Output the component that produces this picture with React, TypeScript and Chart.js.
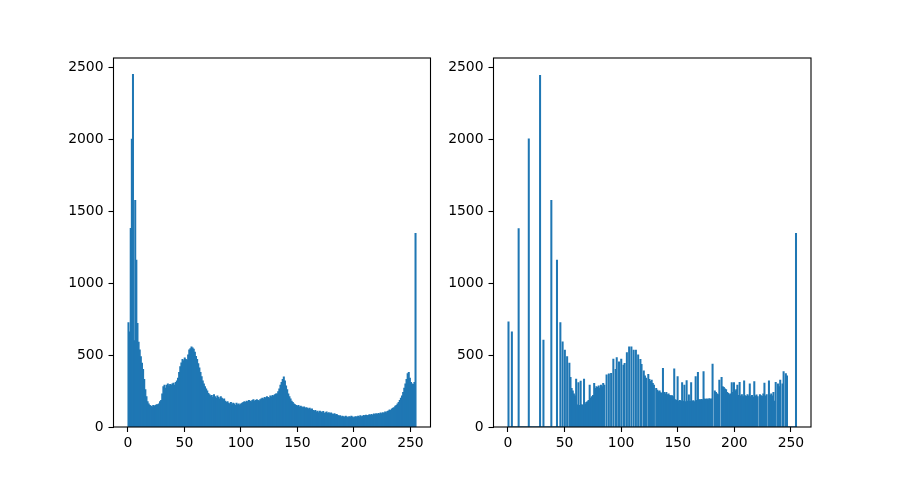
import React, { useEffect, useRef } from "react";
import { Chart, registerables } from "chart.js";

Chart.register(...registerables);

// Original image histogram (256 bins over 0..255)
const leftCounts: number[] = [
  725, 660, 1380, 2000, 2450, 600, 1575, 1160, 720, 590, 535, 488, 444,
  400, 330, 260, 210, 175, 160, 150, 145,
  140, 150, 145, 150, 155,
  155, 160, 175, 185, 230, 280, 290,
  270, 290, 300, 285, 295, 290, 300, 305, 290, 310, 320,
  340, 380, 420, 445, 470, 460, 480, 470, 465, 500, 535, 545, 557,
  550, 540, 520, 490, 470, 440, 410,
  380, 349, 320, 300, 280, 265, 250, 234, 225,
  215, 220, 205, 225, 210, 200, 215, 205, 195, 210, 200, 190, 195,
  180, 170, 175, 165, 160, 170, 155, 165, 160, 150, 165, 155, 160, 150, 160,
  165, 170, 175, 170, 180, 175, 185, 180, 175, 185, 190, 180, 185, 190, 185, 180, 190, 195,
  200, 195, 205, 200, 210, 205, 200, 215, 210, 220, 215, 225, 230,
  230, 245, 265, 290, 310, 330, 348, 320, 285, 260, 230, 210, 195, 180, 170, 160,
  155, 150, 145, 150, 140, 145, 140, 135, 140, 130, 135, 130, 125, 130, 120, 125, 115,
  110, 115, 105, 110, 100, 110, 105, 100, 108, 95, 100, 105, 95, 100, 92, 98, 90, 88, 92, 85, 88,
  80, 75, 78, 70, 75, 72, 68, 75, 70, 65, 72, 68, 75, 70, 65, 70, 72, 68, 75, 70, 78, 72, 75, 80, 76, 82, 78,
  80, 85, 82, 88, 80, 90, 85, 92, 88, 95, 90, 98, 92, 100, 95, 105, 100, 108, 112, 118, 115, 125,
  130, 135, 145, 150, 160, 170, 185, 200, 215, 240, 270, 300, 330, 370, 380, 340, 310, 300, 295, 310, 1345,
];

// Equalized image histogram (256 bins over 0..255)
const rightCounts: number[] = [
  731, 0, 0, 661, 0, 0, 0, 0, 0, 1379,
  0, 0, 0, 0, 0, 0, 0, 0, 2003, 0,
  0, 0, 0, 0, 0, 0, 0, 0, 2443, 0,
  0, 604, 0, 0, 0, 0, 0, 0, 1575, 0,
  0, 0, 0, 1159, 0, 0, 725, 0, 592, 0,
  534, 0, 488, 0, 444, 345, 268, 250, 230, 215,
  333, 153, 308, 150, 319, 155, 150, 333, 160, 170,
  176, 185, 291, 200, 210, 220, 303, 268, 280, 275,
  285, 270, 290, 280, 303, 290, 0, 361, 0, 368,
  0, 372, 0, 472, 0, 400, 481, 0, 453, 0,
  472, 0, 430, 442, 0, 516, 0, 557, 0, 557,
  0, 534, 0, 534, 0, 500, 0, 470, 435, 0,
  390, 354, 340, 0, 365, 330, 317, 326, 303, 291,
  0, 268, 255, 245, 250, 238, 234, 407, 240, 230,
  241, 225, 230, 220, 215, 218, 210, 403, 190, 185,
  350, 180, 185, 178, 308, 180, 291, 175, 321, 180,
  222, 178, 308, 180, 182, 176, 350, 185, 379, 190,
  188, 192, 190, 384, 195, 192, 195, 190, 196, 193,
  195, 437, 0, 250, 240, 230, 225, 326, 0, 345,
  280, 275, 265, 260, 240, 234, 225, 230, 308, 240,
  308, 250, 260, 291, 220, 310, 215, 225, 210, 320,
  218, 212, 225, 215, 300, 210, 220, 208, 315, 215,
  222, 210, 0, 225, 218, 212, 230, 305, 215, 225,
  0, 320, 220, 230, 215, 240, 180, 310, 0, 300,
  280, 326, 0, 300, 384, 0, 370, 355, 0, 0,
  0, 0, 0, 0, 0, 1345,
];

const xTicks: number[] = [0, 50, 100, 150, 200, 250];
const yTicks: number[] = [0, 500, 1000, 1500, 2000, 2500];

const BIN_RANGE = 255;
const X_MIN = -12.75;
const X_MAX = 267.75;
const Y_MAX = 2565;

const font = { family: "'DejaVu Sans', sans-serif", size: 13.9 };

const framePlugin = {
  id: "frame",
  afterDraw(chart: any) {
    const { ctx, chartArea: a } = chart;
    ctx.save();
    ctx.strokeStyle = "#000";
    ctx.lineWidth = 1.1;
    ctx.strokeRect(a.left, a.top, a.right - a.left, a.bottom - a.top);
    ctx.restore();
  },
};

function Hist(props: { counts: number[]; left: number; width: number; axisLeft: number; padRight: number }) {
  const ref = useRef<HTMLCanvasElement | null>(null);
  const { counts, left, width, axisLeft, padRight } = props;
  useEffect(() => {
    const n = counts.length;
    const data = counts.map((c, i) => ({ x: ((i + 0.5) * BIN_RANGE) / n, y: c }));
    const chart = new Chart(ref.current as HTMLCanvasElement, {
      type: "bar",
      data: {
        datasets: [
          {
            data: data as any,
            backgroundColor: "#1f77b4",
            borderWidth: 0,
            barPercentage: 1,
            categoryPercentage: 1,
            inflateAmount: 0.45,
          },
        ],
      },
      options: {
        responsive: false,
        animation: false,
        events: [],
        layout: { padding: { left: 0, right: padRight, top: 58, bottom: 0 } },
        plugins: { legend: { display: false }, tooltip: { enabled: false } },
        scales: {
          x: {
            type: "linear",
            min: X_MIN,
            max: X_MAX,
            offset: false,
            afterBuildTicks: (s: any) => {
              s.ticks = xTicks.map((v) => ({ value: v }));
            },
            afterFit: (s: any) => {
              s.height = 53;
            },
            grid: {
              offset: false,
              drawOnChartArea: false,
              drawTicks: true,
              tickLength: 5,
              tickColor: "#000",
              tickWidth: 1.1,
            },
            border: { display: false },
            ticks: {
              color: "#000",
              font,
              padding: 3,
              maxRotation: 0,
              autoSkip: false,
              callback: (v: any) => String(v),
            },
          },
          y: {
            type: "linear",
            min: 0,
            max: Y_MAX,
            afterBuildTicks: (s: any) => {
              s.ticks = yTicks.map((v) => ({ value: v }));
            },
            afterFit: (s: any) => {
              s.width = axisLeft;
            },
            grid: {
              drawOnChartArea: false,
              drawTicks: true,
              tickLength: 5,
              tickColor: "#000",
              tickWidth: 1.1,
            },
            border: { display: false },
            ticks: {
              color: "#000",
              font,
              padding: 5,
              autoSkip: false,
              callback: (v: any) => String(v),
            },
          },
        },
      },
      plugins: [framePlugin],
    });
    return () => chart.destroy();
  }, []);
  return (
    <canvas
      ref={ref}
      width={width}
      height={480}
      style={{ position: "absolute", left, top: 0, width, height: 480 }}
    />
  );
}

export default function App() {
  return (
    <div style={{ position: "absolute", left: 0, top: 0, width: 901, height: 480, background: "#fff" }}>
      <Hist counts={leftCounts} left={0} width={440} axisLeft={113.5} padRight={9.5} />
      <Hist counts={rightCounts} left={440} width={461} axisLeft={53.5} padRight={90} />
    </div>
  );
}
